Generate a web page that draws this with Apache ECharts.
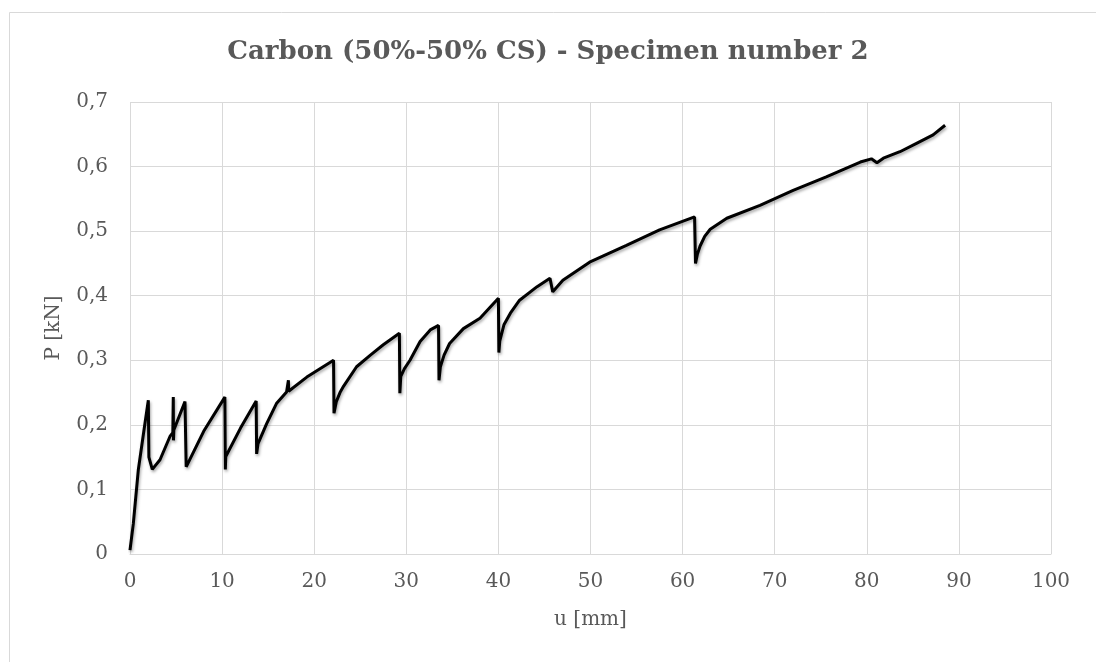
<!DOCTYPE html>
<html>
<head>
<meta charset="utf-8">
<script src="https://cdn.jsdelivr.net/npm/echarts@6/dist/echarts.min.js"></script>
<style>
  html, body { margin: 0; padding: 0; background: #fff; }
  #chart-container { width: 1096px; height: 662px; }
</style>
</head>
<body>
<div id="chart-container"></div>
<script>
var dom = document.getElementById('chart-container');
var myChart = echarts.init(dom, null, { renderer: 'canvas' });

// displacement u [mm]
var uValues = [
  0, 0.36, 0.9, 1.5, 1.99, 2.05, 2.42, 3.26, 4.34, 4.65, 4.7, 4.72, 4.76,
  5.97, 6.1, 6.2, 8, 10.3, 10.35, 10.4, 12, 13.7, 13.75, 13.9, 14.84, 15.9,
  17.0, 17.15, 17.2, 17.22, 19.2, 22.1, 22.15, 22.4, 22.8, 23.2, 24.6, 26.1, 27.5,
  29.25, 29.3, 29.4, 29.8, 30.4, 31.5, 32.6, 33.5, 33.55, 33.7, 34.1, 34.7, 36.2, 38.0,
  40.0, 40.05, 40.15, 40.6, 41.3, 42.3, 44.2, 45.6, 45.9, 47.0, 49.9, 53.9, 57.5,
  61.3, 61.4, 61.6, 61.9, 62.4, 63.0, 64.8, 68.4, 72.0, 75.6, 79.3, 80.5, 81.1, 81.8,
  83.6, 85.4, 87.2, 88.5
];
// load P [kN]
var pValues = [
  0.006, 0.047, 0.13, 0.19, 0.238, 0.15, 0.131, 0.146, 0.182, 0.188, 0.243, 0.176, 0.192,
  0.236, 0.135, 0.135, 0.19, 0.243, 0.131, 0.151, 0.195, 0.237, 0.155, 0.171, 0.202, 0.233,
  0.251, 0.253, 0.269, 0.252, 0.274, 0.30, 0.218, 0.236, 0.25, 0.26, 0.29, 0.308, 0.324,
  0.342, 0.249, 0.275, 0.287, 0.300, 0.329, 0.347, 0.354, 0.269, 0.29, 0.308, 0.326, 0.349, 0.365,
  0.396, 0.312, 0.33, 0.355, 0.373, 0.393, 0.414, 0.427, 0.406, 0.424, 0.452, 0.478, 0.502,
  0.522, 0.45, 0.464, 0.477, 0.492, 0.503, 0.52, 0.54, 0.563, 0.584, 0.607, 0.612, 0.606, 0.613,
  0.623, 0.636, 0.649, 0.664
];

var seriesData = uValues.map(function (u, i) {
  return [u, pValues[i]];
});

var textColor = '#595959';
var gridColor = '#d9d9d9';
var font = 'DejaVu Serif';

var option = {
  animation: false,
  backgroundColor: '#fff',
  title: {
    text: 'Carbon (50%-50% CS) - Specimen number 2',
    left: 'center',
    top: 34,
    textStyle: {
      fontFamily: font,
      fontWeight: 'bold',
      fontSize: 26,
      color: textColor
    }
  },
  graphic: [{
    type: 'rect',
    left: 7,
    top: 10,
    shape: { width: 1200, height: 800 },
    style: { fill: 'none', stroke: gridColor, lineWidth: 1 },
    silent: true
  }],
  grid: {
    left: 130,
    right: 45,
    top: 102,
    bottom: 108
  },
  xAxis: {
    type: 'value',
    min: 0,
    max: 100,
    interval: 10,
    name: 'u [mm]',
    nameLocation: 'middle',
    nameGap: 56,
    nameTextStyle: { fontFamily: font, fontSize: 20, color: textColor },
    axisLine: { show: true, lineStyle: { color: gridColor } },
    axisTick: { show: false },
    axisLabel: { margin: 18, fontFamily: font, fontSize: 20, color: textColor },
    splitLine: { show: true, lineStyle: { color: gridColor, width: 1 } }
  },
  yAxis: {
    type: 'value',
    min: 0,
    max: 0.7,
    interval: 0.1,
    name: 'P [kN]',
    nameLocation: 'middle',
    nameGap: 66,
    nameTextStyle: { fontFamily: font, fontSize: 20, color: textColor },
    axisLine: { show: false },
    axisTick: { show: false },
    axisLabel: {
      margin: 22,
      fontFamily: font,
      fontSize: 20,
      color: textColor,
      formatter: function (v) {
        return String(Math.round(v * 10) / 10).replace('.', ',');
      }
    },
    splitLine: { show: true, lineStyle: { color: gridColor, width: 1 } }
  },
  series: [{
    type: 'line',
    data: seriesData,
    showSymbol: false,
    symbol: 'none',
    lineStyle: {
      color: '#000',
      width: 3,
      shadowColor: 'rgba(0,0,0,0.35)',
      shadowBlur: 3,
      shadowOffsetX: 1,
      shadowOffsetY: 2
    }
  }]
};

myChart.setOption(option);
window.addEventListener('resize', myChart.resize);
</script>
</body>
</html>
